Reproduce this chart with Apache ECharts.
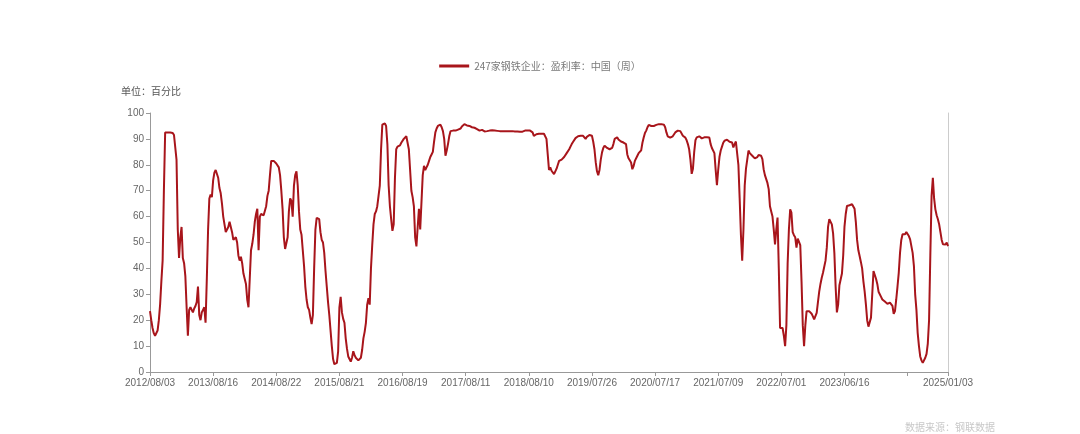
<!DOCTYPE html>
<html><head><meta charset="utf-8">
<script src="https://cdn.jsdelivr.net/npm/echarts@6/dist/echarts.min.js"></script>
<style>html,body{margin:0;padding:0;background:#fff}#c{width:1080px;height:434px}</style>
</head><body><div id="c"></div>
<script>
const seriesName = '247家钢铁企业：盈利率：中国（周）';
const unitText = '单位：百分比';
const sourceText = '数据来源：钢联数据';
const tickDates = ['2012/08/03','2013/08/16','2014/08/22','2015/08/21','2016/08/19','2017/08/11','2018/08/10','2019/07/26','2020/07/17','2021/07/09','2022/07/01','2023/06/16','2024/05/24','2025/01/03'];
const tickIndex = [0,50,100,150,200,250,300,350,400,450,500,550,600,632];
const hiddenTickLabels = ['2024/05/24'];
const yTicks = [0,10,20,30,40,50,60,70,80,90,100];
const profitRate = [
23.5,20,17,15,14,14,16,20,26,35,
43,70,92.5,92.5,92.5,92.5,92.5,92.5,92.3,91.5,
91.2,82,55,44,52,56,44,42,37,25,
14,24,25,24.5,23,24.5,25.5,27,33,22,
20,23,24,25,19,36,55,67,68.5,67.5,
74,77,78,77.5,75,71,69,65,60,57,
54,53.5,56,58,56,54,51,51.5,52,50,
45,43,44.5,42,38,36,34,28,25,36,
47,49.5,53,58,61,63,47,60,61,60.5,
60.5,61,64,68,70,76,81.5,81.5,81.5,82,
80.5,80.2,79,76,70,63,52,47.5,47,52,
62,67,66,60,72,76,77.5,72,62,55,
53,47,41,33,28,25,24,21,18.5,22,
40,55,59.5,60,59,54,51,50,46,39,
33,27,22,16,10,5,3,3,3.5,8,
25,29,23,20.5,19,13,9,6,5,4,
5.5,8,6.5,5.5,5,4.5,4.5,5.5,8.5,13,
15.5,19,26,28.5,26,40,49,57,61,62,
64,68,72,86,95.5,96.2,96,95,88,72,
64,59,54.5,57,75,86,87,86.5,87.5,88.5,
89,90,90.5,91,91.5,86,78,70,67.5,64,
52,48.5,56,63,55,55,76,79.6,78,79,
80,81.5,83,84,85,89,92.5,94,95,95.7,
95.5,94.5,93,90,83.5,85.5,88,91,93,93.5,
93.2,93,93.2,93.5,93.6,93.8,94,94.8,95.4,95.7,
95.3,95.2,95,95,94.8,94.5,94.4,94.3,94.2,93.8,
93.3,93.2,93.4,93.5,93.2,92.9,92.8,93,93.2,93.2,
93.3,93.3,93.2,93.2,93.1,93.1,93.1,93,93,93,
93,93,93,93,93,93,93,93,92.9,92.9,
92.9,92.9,92.8,92.8,92.8,92.8,92.9,93.2,93.2,93.2,
93.2,93.2,93,92.5,91.2,91.5,91.8,92,92,92,
92,92,92,92,90,84,78,79,77.7,77,
76.4,77,78.5,80,81.5,81.8,82,82.2,83,83.5,
84.5,85,86,87,88,88.8,89.5,90.3,90.8,91,
91.2,91.2,91.2,91.2,90.8,90,90.8,91.2,91.5,91.4,
91.2,89,86,81,77.5,76,78,82,84.8,86.5,
87.4,86.8,86.5,86.2,86,86.2,86.5,88,90,90.3,
90.6,89.8,89.2,89,88.8,88.6,88.3,88,84,82.5,
82,80.9,78.3,79.5,81.5,82.2,83.5,84.5,85,85.6,
88.5,90.5,92.3,93.2,94.5,95.4,95.7,95,94.5,95,
95.3,95.4,95.5,95.7,95.7,95.7,95.7,95.5,94.5,92.5,
91,90.3,90.5,90.6,91,91.5,92.5,93.2,93.2,93.2,
93,92.5,91.2,91.6,90.5,89.5,88,86,82,76.5,
78.5,85,89.5,90.6,90.8,91,90.6,90.2,90.4,90.6,
90.6,90.6,90.6,90.5,88,86.5,86.3,84.5,78,72.1,
78,83,85.5,87,88.5,89.3,89.5,89.7,89.4,88.9,
88.7,88.6,86.7,88,89,89.3,80,67,53,43,
55,72,78.5,82,85.5,84.5,83.8,83.5,83,82.5,
82.2,83,83.8,84.1,83.5,82.2,78.3,76,75.5,73,
70.6,64,62,60,55,49.3,55,59.6,40,17,
16.4,17,14,10,18,42,55,62.8,61.5,54,
52.8,52,48,51.5,51.2,49,35,18,10,18,
23.5,24,23.5,23,22.5,21.5,20.3,21,22.8,27,
31,34,36.4,38.3,39,43,48,56,59,59.6,
57,53.5,46,33,23,26,33.5,34.2,38,45,
56,61,64.1,64.2,64.4,64.6,64.8,65.2,63,58,
51,47,44.8,42.5,40,35,31,26,20,17.5,
17,21,30,39,38.5,36,34,31,30.4,29,
28,27.5,27.2,26.8,26.3,26,26.8,27.4,25.5,22.5,
23.5,28,33,38.3,46,51,53.2,53.2,53.2,54,
54.2,52.5,51.2,51.5,46,41,30,24,15,10,
6,4.5,3.5,4,5.5,7,11,20,45,68,
75,67,62.8,60.5,59,57,54,51,49.3,48.6,
49.2,50,48.6
];

function parseD(s){const p=s.split('/').map(Number);return Date.UTC(p[0],p[1]-1,p[2]);}
function fmt(t){const d=new Date(t);const m=d.getUTCMonth()+1,dd=d.getUTCDate();return d.getUTCFullYear()+'/'+(m<10?'0':'')+m+'/'+(dd<10?'0':'')+dd;}
const categories=[];
for(let k=0;k<tickDates.length-1;k++){
  const a=parseD(tickDates[k]),b=parseD(tickDates[k+1]);
  const steps=tickIndex[k+1]-tickIndex[k];
  const weeks=Math.round((b-a)/86400000/7);
  for(let j=0;j<steps;j++){
    categories.push(j===0?tickDates[k]:fmt(a+Math.round(j*weeks/steps)*7*86400000));
  }
}
categories.push(tickDates[tickDates.length-1]);

const chart=echarts.init(document.getElementById('c'),null,{renderer:'canvas'});
const lineColor='#a8151b';
const fontFam='"Liberation Sans","DejaVu Sans",sans-serif';
chart.setOption({
  animation:false,
  backgroundColor:'#fff',
  grid:{left:150,right:132,top:113,bottom:62,containLabel:false},
  legend:{
    top:56,left:'center',
    data:[{name:seriesName,icon:'rect'}],
    itemWidth:30,itemHeight:3,itemGap:6,
    textStyle:{color:'#7a7a7a',fontSize:10,fontFamily:'"Noto Sans CJK SC",sans-serif'}
  },
  graphic:[
    {type:'text',left:121,top:86,style:{text:unitText,fill:'#555',font:'10px "Noto Sans CJK SC",sans-serif'}},
    {type:'text',left:905,top:422,style:{text:sourceText,fill:'#c8c8c8',font:'10px "Noto Sans CJK SC",sans-serif'}}
  ],
  xAxis:{
    type:'category',boundaryGap:false,data:categories,
    axisLine:{show:true,lineStyle:{color:'#999',width:1}},
    axisTick:{show:true,length:4,lineStyle:{color:'#999'},interval:function(i){return tickIndex.indexOf(i)>=0;}},
    axisLabel:{color:'#666',fontSize:10,fontFamily:fontFam,margin:6,
      interval:function(i,v){return tickIndex.indexOf(i)>=0 && hiddenTickLabels.indexOf(v)<0;}},
    splitLine:{show:false}
  },
  yAxis:[{
    type:'value',min:yTicks[0],max:yTicks[yTicks.length-1],interval:10,
    axisLine:{show:true,lineStyle:{color:'#999'}},
    axisTick:{show:true,length:4,lineStyle:{color:'#999'}},
    axisLabel:{color:'#666',fontSize:10,fontFamily:fontFam,margin:6},
    splitLine:{show:false}
  },{
    type:'value',position:'right',min:0,max:100,
    axisLine:{show:true,lineStyle:{color:'#ccc'}},
    axisTick:{show:false},axisLabel:{show:false},splitLine:{show:false}
  }],
  series:[{
    name:seriesName,type:'line',data:profitRate,showSymbol:false,symbol:'none',
    lineStyle:{color:lineColor,width:2},itemStyle:{color:lineColor},
    smooth:false
  }]
});
</script></body></html>
